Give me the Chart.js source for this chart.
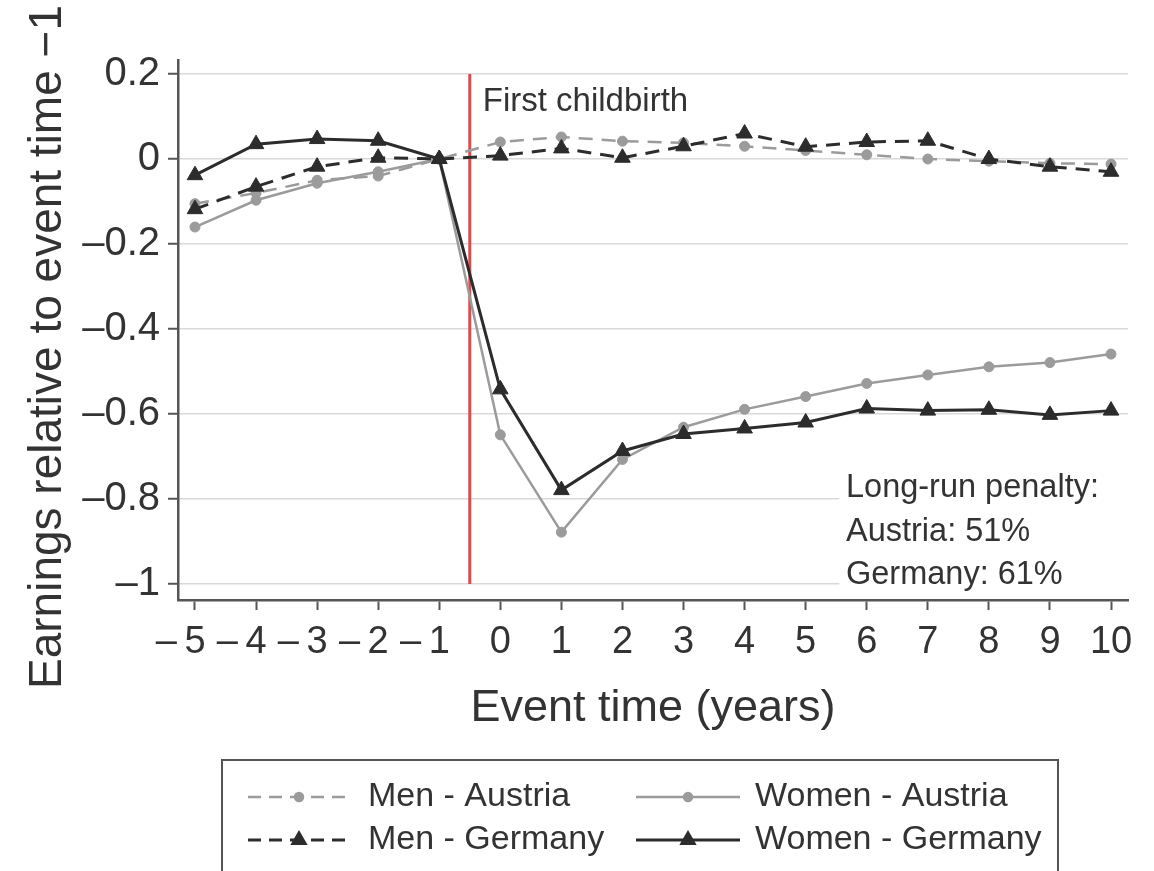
<!DOCTYPE html>
<html><head><meta charset="utf-8">
<script src="https://cdn.jsdelivr.net/npm/chart.js@4/dist/chart.umd.min.js"></script>
<style>html,body{margin:0;padding:0;background:#fff}#wrap{width:1154px;height:871px}</style>
</head><body><div id="wrap"><canvas id="c" width="1154" height="871"></canvas></div>
<script>
// ---- data ----
const eventTimes   = [-5,-4,-3,-2,-1,0,1,2,3,4,5,6,7,8,9,10];
const menAustria   = [-0.105,-0.08,-0.05,-0.04,0,0.04,0.052,0.042,0.038,0.03,0.02,0.01,0,-0.005,-0.01,-0.012];
const womenAustria = [-0.16,-0.097,-0.057,-0.03,0,-0.649,-0.878,-0.707,-0.631,-0.589,-0.559,-0.528,-0.508,-0.489,-0.479,-0.459];
const menGermany   = [-0.118,-0.065,-0.018,0.003,0,0.008,0.025,0.003,0.03,0.06,0.029,0.04,0.043,0,-0.018,-0.03];
const womenGermany = [-0.038,0.035,0.047,0.043,0,-0.542,-0.779,-0.687,-0.647,-0.634,-0.62,-0.587,-0.592,-0.59,-0.602,-0.592];
const seriesLabels = ['Men - Austria','Women - Austria','Men - Germany','Women - Germany'];
const yTicks = [0.2,0,-0.2,-0.4,-0.6,-0.8,-1];
const xTicks = eventTimes;
const childbirthTime = -0.5;
const eventLineSpan = [0.2,-1];
const eventLabel = 'First childbirth';
const penaltyLines = ['Long-run penalty:','Austria: 51%','Germany: 61%'];
const xTitle = 'Event time (years)';
const yTitle = 'Earnings relative to event time \u22121';

const FONT = '"Liberation Sans", Arial, Helvetica, sans-serif';
const TXT = '#333333';
const GRAY = '#9b9b9b';
const DARK = '#2c2c2c';

function pts(arr){ return eventTimes.map((x,i)=>({x:x,y:arr[i]})); }
function num(v){ return String(Math.abs(Math.round(v*10)/10)); }
function yLabel(v){
  if (Math.abs(v) < 1e-9) return '0';
  return (v < 0 ? '\u2013' : '') + num(v);
}
function xLabel(v){
  if (Math.abs(v) < 1e-9) return '0';
  // minus hangs to the left so that the digits stay centred on the tick
  return v < 0 ? '\u2013\u2009' + num(v) + '\u2007\u2009' : num(v);
}

const datasets = [
  {label: seriesLabels[3], data: pts(womenGermany), borderColor: DARK, backgroundColor: DARK, borderWidth: 3,
   pointStyle: 'triangle', pointRadius: 9, pointBorderWidth: 1, legendRadius: 7},
  {label: seriesLabels[2], data: pts(menGermany), borderColor: DARK, backgroundColor: DARK, borderWidth: 3,
   borderDash: [14,9], pointStyle: 'triangle', pointRadius: 9, pointBorderWidth: 1, legendRadius: 7},
  {label: seriesLabels[1], data: pts(womenAustria), borderColor: GRAY, backgroundColor: GRAY, borderWidth: 2.5,
   pointStyle: 'circle', pointRadius: 5, pointBorderWidth: 1, legendRadius: 4},
  {label: seriesLabels[0], data: pts(menAustria), borderColor: GRAY, backgroundColor: GRAY, borderWidth: 2.5,
   borderDash: [14,9], pointStyle: 'circle', pointRadius: 5, pointBorderWidth: 1, legendRadius: 4},
  {label: 'event', data: [{x:childbirthTime,y:eventLineSpan[0]},{x:childbirthTime,y:eventLineSpan[1]}],
   borderColor: '#e2474d', borderWidth: 3, pointRadius: 0}
];
datasets.forEach(d=>{ d.tension = 0; d.fill = false; });

const decorPlugin = {
  id: 'decor',
  beforeDatasetsDraw(chart){
    const ctx = chart.ctx, xs = chart.scales.x, ys = chart.scales.y;
    ctx.save();
    ctx.fillStyle = '#fff';
    const bx = xs.getPixelForValue(5.55);
    const top = ys.getPixelForValue(-0.73);
    ctx.fillRect(bx, top, chart.chartArea.right + 2 - bx, ys.getPixelForValue(-1.03) - top);
    ctx.restore();
  },
  afterDatasetsDraw(chart){
    const ctx = chart.ctx, xs = chart.scales.x, ys = chart.scales.y;
    ctx.save();
    ctx.fillStyle = TXT;
    ctx.textBaseline = 'middle';
    ctx.textAlign = 'left';
    ctx.font = '33px ' + FONT;
    ctx.fillText(eventLabel, xs.getPixelForValue(childbirthTime) + 13, ys.getPixelForValue(0.135));
    ctx.font = '32.5px ' + FONT;
    const tx = xs.getPixelForValue(5.66);
    const lineY = [-0.775, -0.878, -0.98];
    penaltyLines.forEach((t,i)=> ctx.fillText(t, tx, ys.getPixelForValue(lineY[i])));
    // y axis title
    ctx.save();
    ctx.translate(48, 347);
    ctx.rotate(-Math.PI/2);
    ctx.textAlign = 'center';
    ctx.font = '46px ' + FONT;
    ctx.fillText(yTitle, 0, 0);
    ctx.restore();
    ctx.restore();
  },
  afterDraw(chart){
    const ctx = chart.ctx;
    ctx.save();
    ctx.strokeStyle = '#555';
    ctx.lineWidth = 2;
    ctx.strokeRect(222, 760, 836, 140);
    const order = [3,2,1,0]; // Men-A, Women-A, Men-G, Women-G
    const cells = [[248,350,368,797],[636,740,755,797],[248,350,368,840],[636,740,755,840]];
    order.forEach((di,k)=>{
      const ds = chart.data.datasets[di];
      const [x0,x1,tx,y] = cells[k];
      ctx.strokeStyle = ds.borderColor;
      ctx.lineWidth = ds.borderWidth;
      ctx.setLineDash(ds.borderDash ? [13,8] : []);
      ctx.beginPath(); ctx.moveTo(x0,y); ctx.lineTo(x1,y); ctx.stroke();
      ctx.setLineDash([]);
      ctx.fillStyle = ds.backgroundColor;
      Chart.helpers.drawPoint(ctx, {pointStyle: ds.pointStyle, radius: ds.legendRadius, rotation: 0, borderWidth: 1}, (x0+x1)/2, y);
      ctx.fillStyle = TXT;
      ctx.font = '34px ' + FONT;
      ctx.textAlign = 'left';
      ctx.textBaseline = 'middle';
      ctx.fillText(ds.label, tx, y);
    });
    ctx.restore();
  }
};

new Chart(document.getElementById('c'), {
  type: 'line',
  data: {datasets},
  options: {
    responsive: false,
    animation: false,
    devicePixelRatio: 1,
    layout: {padding: {left: 0, right: 26, top: 60, bottom: 131}},
    plugins: {legend: {display: false}, tooltip: {enabled: false}},
    scales: {
      x: {
        type: 'linear', min: -5.278, max: 10.278,
        afterBuildTicks: s => { s.ticks = xTicks.map(v=>({value:v})); },
        afterFit: s => { s.height = 140; },
        grid: {drawOnChartArea: false, drawTicks: true, tickLength: 10, tickColor: '#555', tickWidth: 2},
        border: {display: true, color: '#555', width: 2.5},
        ticks: {callback: v => xLabel(v), font: {family: FONT, size: 38}, color: TXT, padding: 10, maxRotation: 0, autoSkip: false},
        title: {display: true, text: xTitle, font: {family: FONT, size: 45}, color: TXT, padding: {top: 0, bottom: 4}}
      },
      y: {
        type: 'linear', min: -1.0376, max: 0.233,
        afterBuildTicks: s => { s.ticks = yTicks.map(v=>({value:v})); },
        afterFit: s => { s.width = 178; },
        grid: {color: '#d9d9d9', lineWidth: 1.5, tickLength: 10, tickColor: '#555', tickWidth: 2},
        border: {display: true, color: '#555', width: 2.5},
        ticks: {callback: v => yLabel(v), font: {family: FONT, size: 40}, color: TXT, padding: 8, autoSkip: false}
      }
    }
  },
  plugins: [decorPlugin]
});
</script>
</body></html>
